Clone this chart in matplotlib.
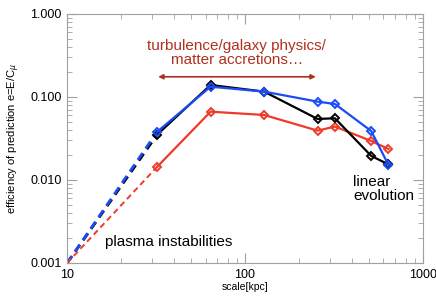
import numpy as np
from matplotlib import pyplot as plt
from matplotlib.ticker import NullFormatter, LogLocator

plt.rcParams['font.family'] = ['Liberation Sans', 'DejaVu Sans']

scale = [32, 64, 128, 256, 320, 512, 640]
eff_blue = [0.0379, 0.133, 0.116, 0.0878, 0.0824, 0.0389, 0.0152]
eff_black = [0.0350, 0.1395, 0.116, 0.0543, 0.0554, 0.0195, 0.0154]
eff_red = [0.01435, 0.0665, 0.0607, 0.0393, 0.0440, 0.0295, 0.0236]

# extrapolation down to the origin corner
x_start, y_start = 10, 0.001

c_blue = '#1a4cf5'
c_red = '#ee3a2a'
c_text = '#b0301f'
grey = '#a0a0a0'

fig = plt.figure(figsize=(4.36, 2.97), dpi=100)
ax = fig.add_axes([0.154, 0.1145, 0.816, 0.8385])

ax.plot([x_start, scale[0]], [y_start, eff_black[0]], '--', c='k', lw=2, dashes=(3, 2))
ax.plot([x_start, scale[0]], [y_start, eff_blue[0]], '--', c=c_blue, lw=2, dashes=(3, 2))
ax.plot([x_start, scale[0]], [y_start, eff_red[0]], '--', c=c_red, lw=1.4, dashes=(3, 2))

mk = dict(marker='D', ms=4, mfc='none', mew=1.4, lw=1.6)
ax.plot(scale, eff_red, c=c_red, **mk)
ax.plot(scale, eff_black, c='k', **mk)
ax.plot(scale, eff_blue, c=c_blue, **mk)

ax.set_xscale('log')
ax.set_yscale('log')
ax.set_xlim(10, 1000)
ax.set_ylim(0.001, 1.0)

ax.set_yticks([0.001, 0.01, 0.1, 1.0])
ax.set_yticklabels(['0.001', '0.010', '0.100', '1.000'])
ax.set_xticks([10, 100, 1000])
ax.set_xticklabels(['10', '100', '1000'])
ax.xaxis.set_minor_locator(LogLocator(base=10, subs=np.arange(2, 10)))
ax.yaxis.set_minor_locator(LogLocator(base=10, subs=np.arange(2, 10)))
ax.xaxis.set_minor_formatter(NullFormatter())
ax.yaxis.set_minor_formatter(NullFormatter())

for s in ax.spines.values():
    s.set_color(grey)
ax.tick_params(which='both', direction='in', top=True, right=True, color=grey,
               labelsize=9, pad=4)
ax.tick_params(which='major', length=7)
ax.tick_params(which='minor', length=3.5)

ax.set_xlabel('scale[kpc]', fontsize=7.5, labelpad=1)
ax.set_ylabel(r'efficiency of prediction e=E/C$_\mu$', fontsize=8, labelpad=6)

ax.annotate('', xy=(32.5, 0.175), xytext=(250, 0.175),
            arrowprops=dict(arrowstyle='<|-|>', color=c_text, lw=1.2,
                            mutation_scale=7, shrinkA=0, shrinkB=0))
ax.text(90, 0.34, 'turbulence/galaxy physics/\nmatter accretions\u2026',
        color=c_text, fontsize=11, ha='center', va='center', linespacing=1.05)
ax.text(404, 0.0078, 'linear\nevolution', fontsize=11, ha='left', va='center',
        linespacing=1.05)
ax.text(16.3, 0.0018, 'plasma instabilities', fontsize=11, ha='left', va='center')

fig.savefig('out.png', dpi=100)
